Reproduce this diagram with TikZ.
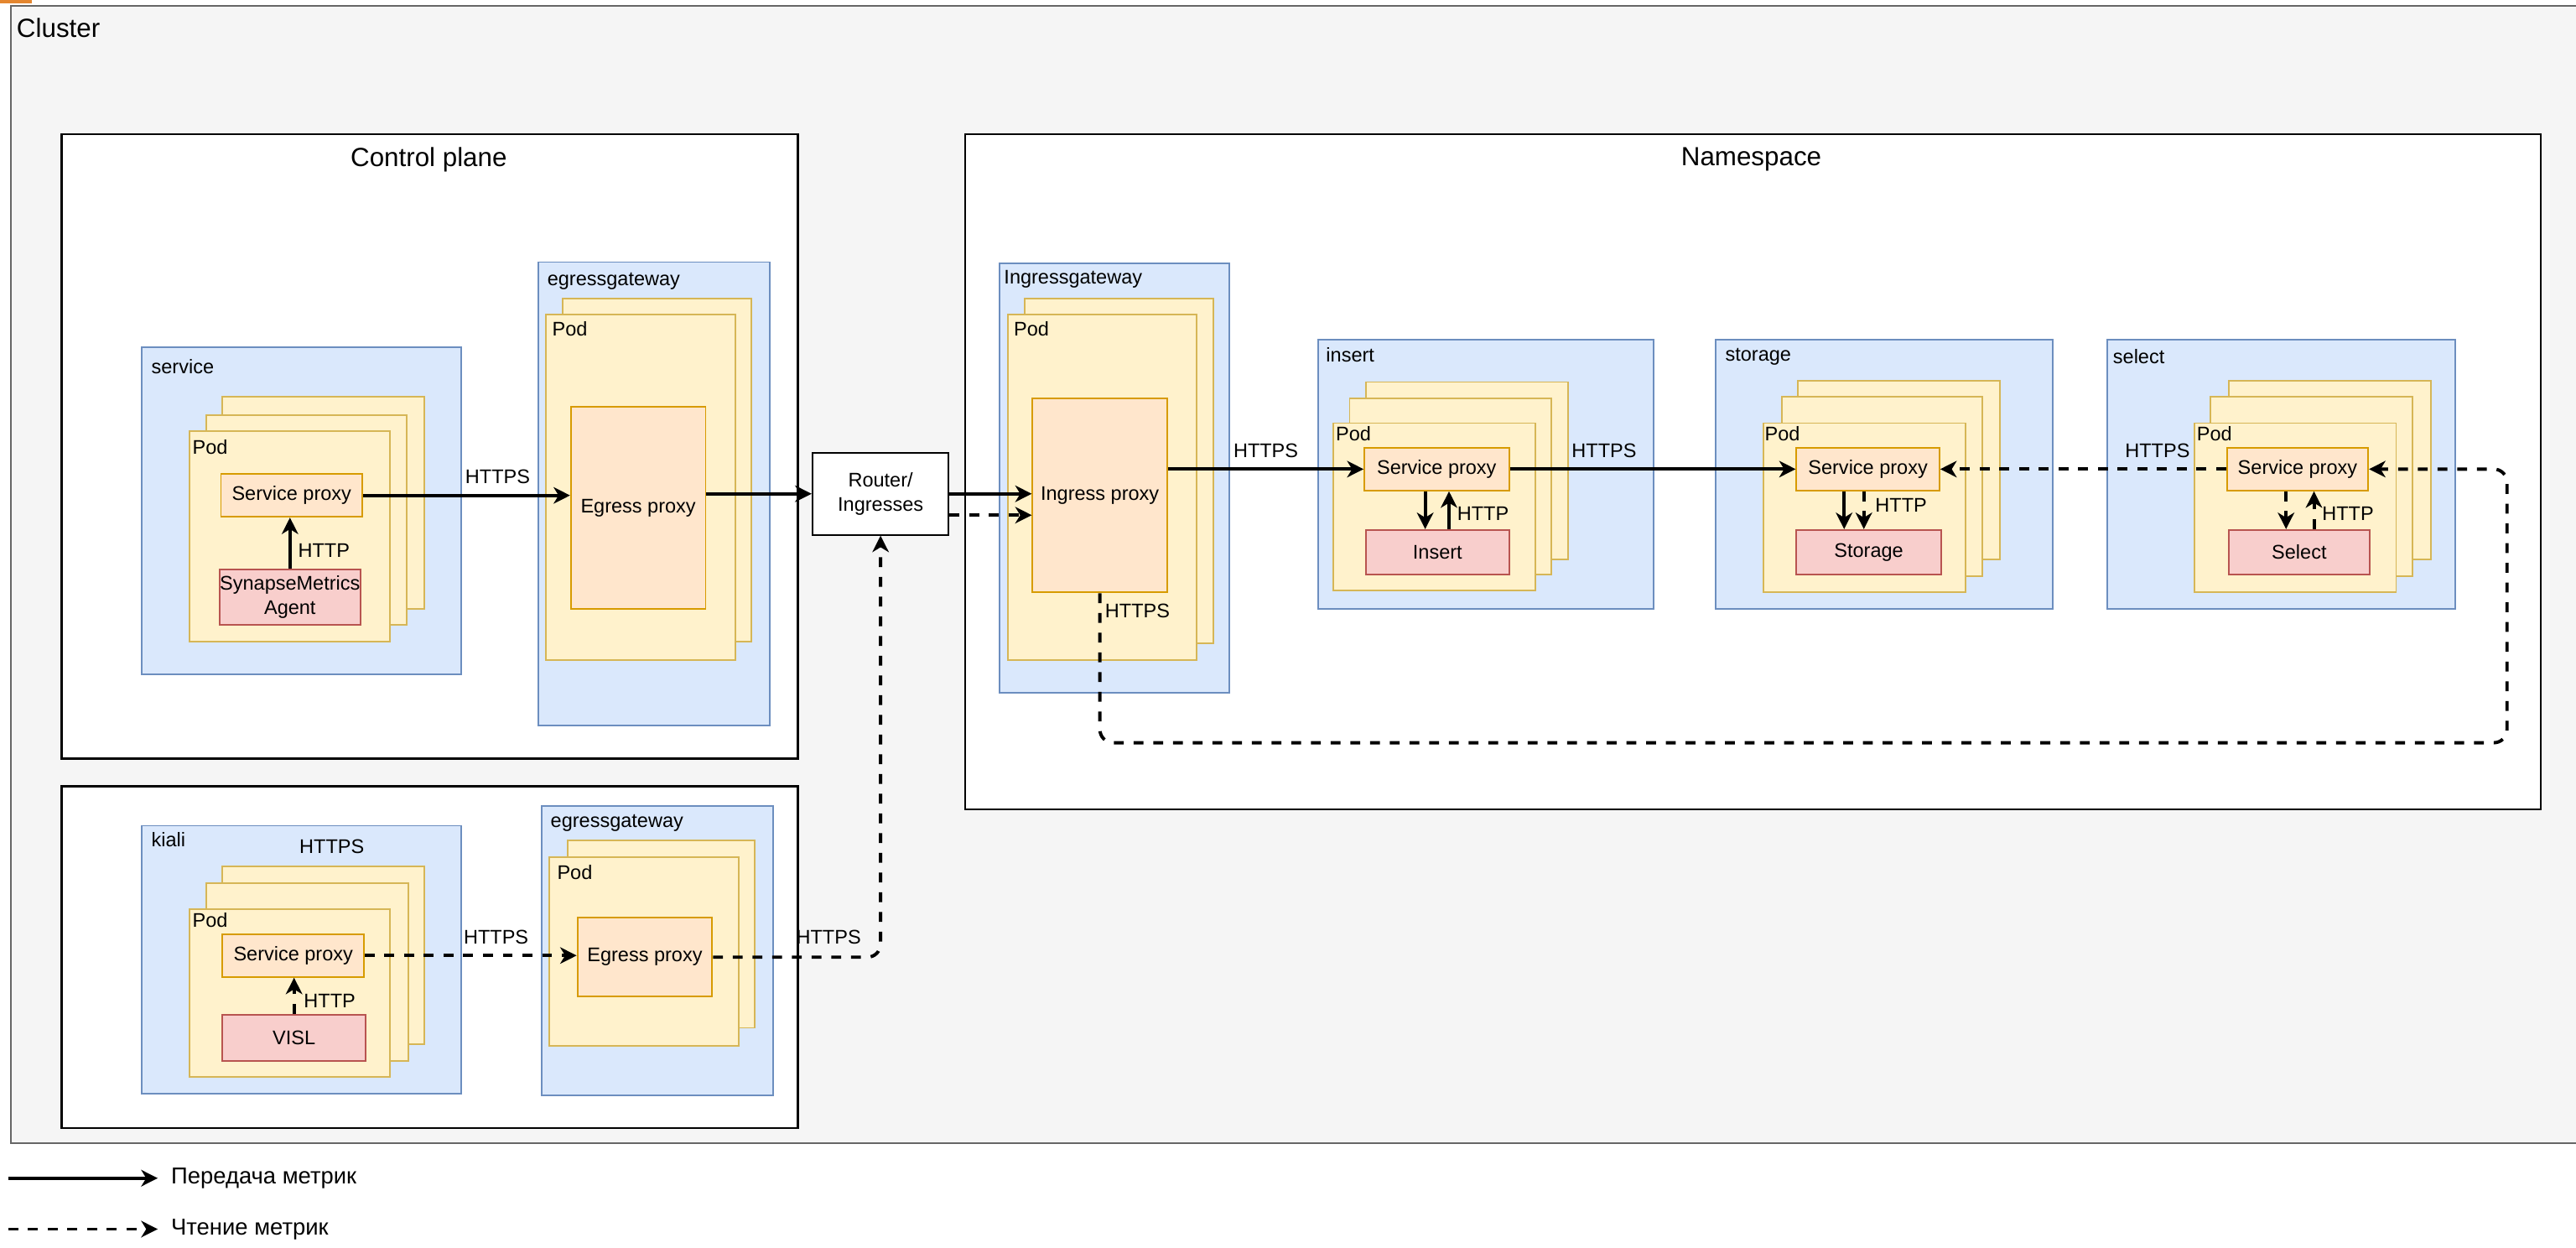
\documentclass[tikz,border=0pt]{standalone}
\usepackage{fontspec}
\setmainfont{Liberation Sans}
\usetikzlibrary{arrows.meta}

\definecolor{clfill}{HTML}{F5F5F5}
\definecolor{clline}{HTML}{666666}
\definecolor{nsfill}{HTML}{DAE8FC}
\definecolor{nsline}{HTML}{6C8EBF}
\definecolor{podfill}{HTML}{FFF2CC}
\definecolor{podline}{HTML}{D6B656}
\definecolor{pxfill}{HTML}{FFE6CC}
\definecolor{pxline}{HTML}{D79B00}
\definecolor{appfill}{HTML}{F8CECC}
\definecolor{appline}{HTML}{B85450}
\definecolor{cornermark}{HTML}{E4862F}

\newcommand\lblfont{\fontsize{12}{15}\selectfont}
\newcommand\cptitlefont{\fontsize{16}{19}\selectfont}
\newcommand\legfont{\fontsize{14}{17}\selectfont}

\tikzset{
  sz/.style 2 args={minimum width=#1, minimum height=#2},
  framebox/.style={draw=black, fill=white, line width=1.2pt, anchor=north west, inner sep=0},
  nsbox/.style={draw=nsline, fill=nsfill, line width=1pt, anchor=north west, inner sep=0},
  pod/.style={draw=podline, fill=podfill, line width=1pt, anchor=north west, inner sep=0},
  proxy/.style={draw=pxline, fill=pxfill, line width=1pt, anchor=north west, inner sep=0, font=\lblfont},
  app/.style={draw=appline, fill=appfill, line width=1pt, anchor=north west, inner sep=0, align=center, font=\lblfont},
  lbl/.style={inner sep=0, font=\lblfont},
  flow/.style={-{Stealth[length=10pt,width=10pt,inset=3pt]}, line width=2pt},
  readflow/.style={flow, dash pattern=on 6pt off 6pt},
}

\begin{document}
\begin{tikzpicture}[x=1pt, y=-1pt]
  \useasboundingbox (0,0) rectangle (1568,759.5);

  % cluster and the three frames
  \node[draw=clline, fill=clfill, line width=1pt, anchor=north west, inner sep=0, sz={1564}{692}] (cluster) at (6,3) {};
  \node[fill=cornermark, anchor=north west, inner sep=0, sz={19}{2}] (corner) at (0,0) {};
  \node[lbl, font=\fontsize{16}{19}\selectfont, anchor=west] (cluster-lbl) at (10,17) {Cluster};
  \node[framebox, sz={448}{380}] (cp) at (37,81) {};
  \node[lbl, font=\cptitlefont] (cp-lbl) at (261,97) {Control plane};
  \node[framebox, sz={448}{208}] (kiali-frame) at (37,478) {};
  \node[framebox, sz={959}{411}] (ns) at (587,81) {};
  \node[lbl, font=\cptitlefont] (ns-lbl) at (1066,97) {Namespace};

  % control plane: service
  \node[nsbox, sz={194}{199}] (service) at (86,211) {};
  \node[lbl, anchor=west] (service-lbl) at ([shift={(6,12)}]service.north west) {service};
  \node[pod, sz={123}{129}] (service-pod3) at (135,241) {};
  \node[pod, sz={122}{128}] (service-pod2) at (125,252) {};
  \node[pod, sz={122}{128}] (service-pod1) at (115,262) {};
  \node[lbl, anchor=west] (service-pod-lbl) at ([shift={(2,10)}]service-pod1.north west) {Pod};
  \node[proxy, sz={86}{26}] (service-proxy) at (134,288) {Service proxy};
  \node[app, sz={86}{34}] (agent) at (133,346) {SynapseMetrics\\Agent};

  % control plane: egressgateway
  \node[nsbox, sz={141}{282}] (egress) at (327,159) {};
  \node[lbl, anchor=west] (egress-lbl) at ([shift={(6,12)}]egress.north west) {egressgateway};
  \node[pod, sz={115}{209}] (egress-pod2) at (342,181) {};
  \node[pod, sz={115}{210}] (egress-pod1) at (332,191) {};
  \node[lbl, anchor=west] (egress-pod-lbl) at ([shift={(4,9)}]egress-pod1.north west) {Pod};
  \node[proxy, sz={82}{123}] (egress-proxy) at (347,247) {Egress proxy};

  \node[framebox, line width=1pt, sz={83}{50}, align=center, font=\lblfont] (router) at (494,275) {Router/\\Ingresses};

  % namespace: ingressgateway
  \node[nsbox, sz={140}{261}] (ingress) at (608,160) {};
  \node[lbl, anchor=west] (ingress-lbl) at ([shift={(3,10)}]ingress.north west) {Ingressgateway};
  \node[pod, sz={115}{210}] (ingress-pod2) at (623,181) {};
  \node[pod, sz={115}{210}] (ingress-pod1) at (613,191) {};
  \node[lbl, anchor=west] (ingress-pod-lbl) at ([shift={(4,9)}]ingress-pod1.north west) {Pod};
  \node[proxy, sz={82}{118}] (ingress-proxy) at (628,242) {Ingress proxy};

  % namespace: insert
  \node[nsbox, sz={204}{164}] (insert) at (802,206) {};
  \node[lbl, anchor=west] (insert-lbl) at ([shift={(5,10)}]insert.north west) {insert};
  \node[pod, sz={123}{108}] (insert-pod3) at (831,232) {};
  \node[pod, sz={123}{107}] (insert-pod2) at (821,242) {};
  \node[pod, sz={123}{102}] (insert-pod1) at (811,257) {};
  \node[lbl, anchor=west] (insert-pod-lbl) at ([shift={(2,7)}]insert-pod1.north west) {Pod};
  \node[proxy, sz={88}{26}] (insert-proxy) at (830,272) {Service proxy};
  \node[app, sz={87}{27}] (insert-app) at (831,322) {Insert};

  % namespace: storage
  \node[nsbox, sz={205}{164}] (storage) at (1044,206) {};
  \node[lbl, anchor=west] (storage-lbl) at ([shift={(6,11)}]storage.north west) {storage};
  \node[pod, sz={123}{109}] (storage-pod3) at (1094,231) {};
  \node[pod, sz={122}{109}] (storage-pod2) at (1084,241) {};
  \node[pod, sz={123}{103}] (storage-pod1) at (1073,257) {};
  \node[lbl, anchor=west] (storage-pod-lbl) at ([shift={(1,7)}]storage-pod1.north west) {Pod};
  \node[proxy, sz={87}{26}] (storage-proxy) at (1093,272) {Service proxy};
  \node[app, sz={88}{27}] (storage-app) at (1093,322) {Storage};

  % namespace: select
  \node[nsbox, sz={212}{164}] (select) at (1282,206) {};
  \node[lbl, anchor=west] (select-lbl) at ([shift={(4,11)}]select.north west) {select};
  \node[pod, sz={123}{109}] (select-pod3) at (1356,231) {};
  \node[pod, sz={123}{109}] (select-pod2) at (1345,241) {};
  \node[pod, sz={123}{103}] (select-pod1) at (1335,257) {};
  \node[lbl, anchor=west] (select-pod-lbl) at ([shift={(2,7)}]select-pod1.north west) {Pod};
  \node[proxy, sz={86}{26}] (select-proxy) at (1355,272) {Service proxy};
  \node[app, sz={86}{27}] (select-app) at (1356,322) {Select};

  % kiali
  \node[nsbox, sz={194}{163}] (kiali) at (86,502) {};
  \node[lbl, anchor=west] (kiali-lbl) at ([shift={(6,9)}]kiali.north west) {kiali};
  \node[lbl] (kiali-https) at (202,515) {HTTPS};
  \node[pod, sz={123}{108}] (kiali-pod3) at (135,527) {};
  \node[pod, sz={123}{108}] (kiali-pod2) at (125,537) {};
  \node[pod, sz={122}{102}] (kiali-pod1) at (115,553) {};
  \node[lbl, anchor=west] (kiali-pod-lbl) at ([shift={(2,7)}]kiali-pod1.north west) {Pod};
  \node[proxy, sz={86}{26}] (kiali-proxy) at (135,568) {Service proxy};
  \node[app, sz={87}{28}] (visl) at (135,617) {VISL};

  % kiali egressgateway
  \node[nsbox, sz={141}{176}] (egress2) at (329,490) {};
  \node[lbl, anchor=west] (egress2-lbl) at ([shift={(6,11)}]egress2.north west) {egressgateway};
  \node[pod, sz={114}{114}] (egress2-pod2) at (345,511) {};
  \node[pod, sz={115}{115}] (egress2-pod1) at (334,521) {};
  \node[lbl, anchor=west] (egress2-pod-lbl) at ([shift={(5,10)}]egress2-pod1.north west) {Pod};
  \node[proxy, sz={82}{48}] (egress2-proxy) at (351,558) {Egress proxy};

  \coordinate (rt-read) at ([yshift=-13pt]router.east);
  \coordinate (ins-dn) at ([xshift=-7pt]insert-proxy.south);
  \coordinate (ins-up) at ([xshift=7pt]insert-app.north);
  \coordinate (sto-dn) at ([xshift=-14.5pt]storage-proxy.south);
  \coordinate (sto-rd) at ([xshift=-2.5pt]storage-proxy.south);
  \coordinate (sel-dn) at ([xshift=-7pt]select-proxy.south);
  \coordinate (sel-up) at ([xshift=9pt]select-app.north);
  \coordinate (loop-se) at (1526,452);

  % metrics push
  \begin{scope}[flow]
    \draw (agent.north) -- node[lbl, right=4pt, pos=0.35] (http-agent) {HTTP} (agent.north |- service-proxy.south);
    \draw (service-proxy.east) -- node[lbl, above=6pt, pos=0.65] (https-cp) {HTTPS} (service-proxy.east -| egress-proxy.west);
    \draw (router.west -| egress-proxy.east) -- (router.west);
    \draw (router.east) -- (router.east -| ingress-proxy.west);
    \draw (insert-proxy.west -| ingress-proxy.east) -- node[lbl, above=6pt] (https-ins) {HTTPS} (insert-proxy.west);
    \draw (insert-proxy.east) -- node[lbl, above=6pt, pos=0.33] (https-sto) {HTTPS} (storage-proxy.west);
    \draw (ins-dn) -- (ins-dn |- insert-app.north);
    \draw (ins-up) -- node[lbl, right=4pt, pos=0.42] (http-ins) {HTTP} (ins-up |- insert-proxy.south);
    \draw (sto-dn) -- (sto-dn |- storage-app.north);
  \end{scope}

  % metrics read
  \begin{scope}[readflow]
    \draw (visl.north) -- node[lbl, right=5pt, pos=0.35] (http-visl) {HTTP} (visl.north |- kiali-proxy.south);
    \draw (kiali-proxy.east) -- node[lbl, above=6pt, pos=0.62] (https-kiali) {HTTPS} (kiali-proxy.east -| egress2-proxy.west);
    \draw[rounded corners=8pt] (egress2-proxy.east) -| node[lbl, above=7pt, pos=0.345] (https-eg2) {HTTPS} (router.south);
    \draw (rt-read) -- (rt-read -| ingress-proxy.west);
    \draw[rounded corners=8pt] (ingress-proxy.south) |- (loop-se) |- (select-proxy.east);
    \draw (select-proxy.west) -- node[lbl, above=6pt, pos=0.24] (https-sel) {HTTPS} (storage-proxy.east);
    \draw (sto-rd) -- node[lbl, right=6pt, pos=0.375] (http-sto) {HTTP} (sto-rd |- storage-app.north);
    \draw (sel-dn) -- (sel-dn |- select-app.north);
    \draw (sel-up) -- node[lbl, right=4pt, pos=0.42] (http-sel) {HTTP} (sel-up |- select-proxy.south);
  \end{scope}
  \node[lbl, anchor=west] (https-loop) at ([shift={(3,11)}]ingress-proxy.south) {HTTPS};

  % legend
  \coordinate (leg-send) at (5,717);
  \coordinate (leg-read) at (5,748);
  \node[lbl, font=\legfont, anchor=west, inner xsep=8pt] (send) at (96,717) {Передача метрик};
  \node[lbl, font=\legfont, anchor=west, inner xsep=8pt] (read) at (96,748) {Чтение метрик};
  \draw[flow] (leg-send) -- (send.west);
  \draw[readflow] (leg-read) -- (read.west);
\end{tikzpicture}
\end{document}
